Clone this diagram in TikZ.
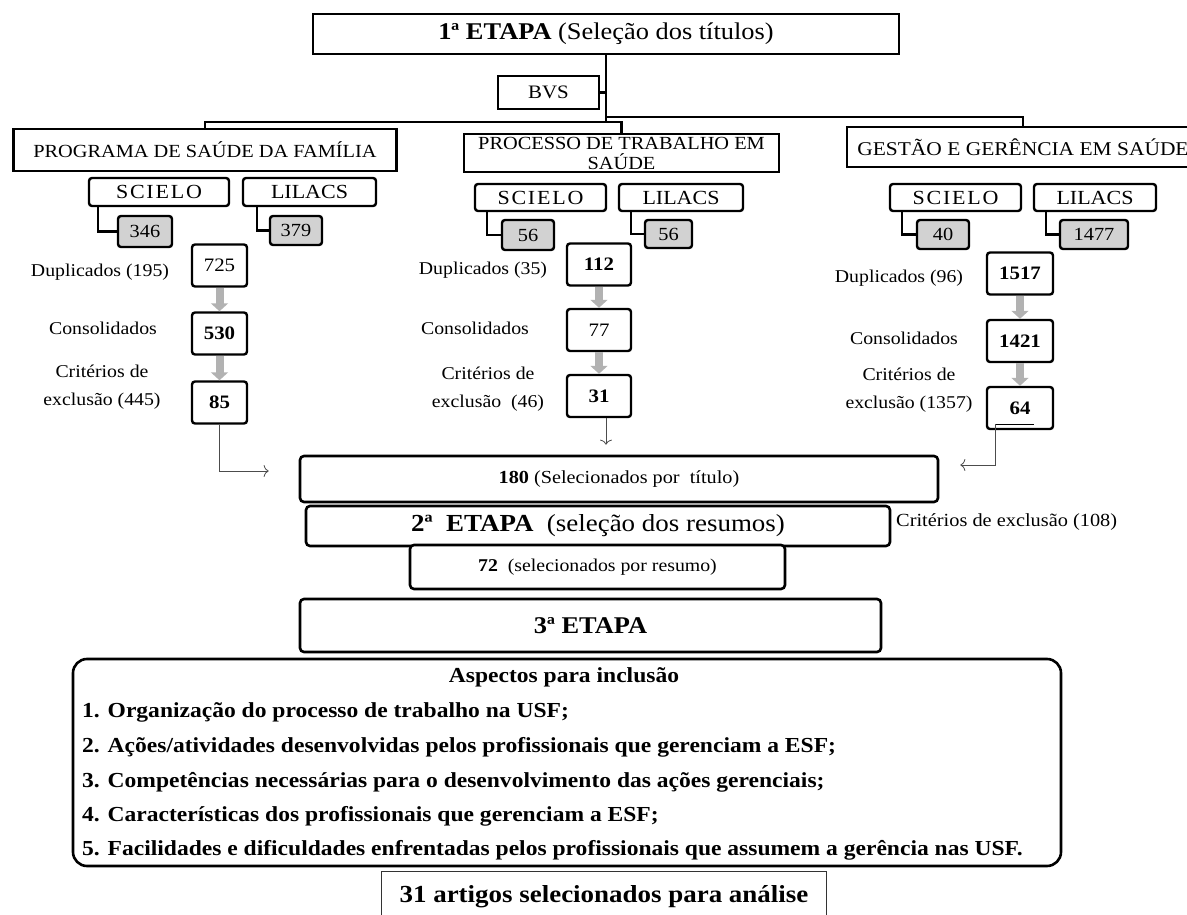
\documentclass[tikz,border=0pt]{standalone}
\usepackage{fontspec}
\setmainfont{Liberation Serif}[FakeStretch=1.1]
\usetikzlibrary{arrows.meta,positioning}

\begin{document}
\begin{tikzpicture}[
	x=1pt, y=-1pt,
	every node/.style={font=\fontsize{18}{20}\selectfont},
	frame/.style={rectangle, draw, line width=2.6pt, align=center, inner sep=0pt},
	topic/.style={frame, font=\fontsize{18.5}{20}\selectfont},
	base/.style={frame, rounded corners=3pt, line width=2.4pt, font=\fontsize{20}{22}\selectfont},
	hits/.style={frame, rounded corners=3pt, fill=gray!35, line width=2.4pt, font=\fontsize{18.5}{20}\selectfont},
	count/.style={frame, rounded corners=3pt, line width=2.4pt, minimum height=42pt, font=\bfseries\fontsize{19}{20}\selectfont},
	stage/.style={frame, rounded corners=4pt, fill=white},
	lbl/.style={align=center, inner sep=0pt, font=\fontsize{18}{28}\selectfont},
	item/.style={inner sep=0pt, font=\bfseries\fontsize{21.4}{24}\selectfont},
	link/.style={line width=2.6pt},
	flow/.style={line width=8pt, draw=gray!60, -{Triangle[length=8pt,width=17pt]}},
	line/.style={draw=black!70, line width=0.8pt, -{To[length=5pt,width=12pt]}}
]
\useasboundingbox (0,0) rectangle (1187,915);

\node[frame, minimum width=586pt, minimum height=40pt, font=\fontsize{24}{26}\selectfont] (title) at (606,34) {\textbf{1ª ETAPA} (Seleção dos títulos)};
\node[frame, minimum width=101pt, minimum height=33pt, font=\fontsize{19}{20}\selectfont] (bvs) at (548.5,92.5) {BVS};

\node[topic, minimum width=383pt, minimum height=42pt] (psf) at (205,150) {PROGRAMA DE SAÚDE DA FAMÍLIA};
\node[topic, minimum width=315pt, minimum height=38pt] (proc) at (621.5,153) {PROCESSO DE TRABALHO EM\\SAÚDE};
\node[topic, minimum width=352pt, minimum height=40pt, font=\fontsize{19.5}{22}\selectfont] (gest) at (1023,147) {GESTÃO E GERÊNCIA EM SAÚDE};

% bases
\node[base, minimum width=140pt, minimum height=28pt] (scA) at (159,192) {\addfontfeature{LetterSpace=9}SCIELO};
\node[base, minimum width=133pt, minimum height=28pt] (liA) at (309.5,192) {LILACS};
\node[base, minimum width=131pt, minimum height=27pt] (scB) at (540.5,197.5) {\addfontfeature{LetterSpace=9}SCIELO};
\node[base, minimum width=124pt, minimum height=27pt] (liB) at (681,197.5) {LILACS};
\node[base, minimum width=131pt, minimum height=27pt] (scC) at (955.5,197.5) {\addfontfeature{LetterSpace=9}SCIELO};
\node[base, minimum width=122pt, minimum height=27pt] (liC) at (1095,197.5) {LILACS};

\node[hits, minimum width=54pt, minimum height=31pt] (hA1) at (145,231.5) {346};
\node[hits, minimum width=52pt, minimum height=29pt] (hA2) at (296,230.5) {379};
\node[hits, minimum width=52pt, minimum height=30pt] (hB1) at (528,235) {56};
\node[hits, minimum width=47pt, minimum height=28pt] (hB2) at (668.5,234) {56};
\node[hits, minimum width=52pt, minimum height=29pt] (hC1) at (943,234.5) {40};
\node[hits, minimum width=68pt, minimum height=29pt] (hC2) at (1094,234.5) {1477};

% counts
\node[count, minimum width=55pt, font=\fontsize{19}{20}\selectfont] (cA1) at (219.5,265.5) {725};
\node[count, minimum width=55pt] (cA2) at (219.5,333.5) {530};
\node[count, minimum width=55pt] (cA3) at (219.5,402.5) {85};
\node[count, minimum width=64pt] (cB1) at (599,264.5) {112};
\node[count, minimum width=64pt, font=\fontsize{19}{20}\selectfont] (cB2) at (599,330) {77};
\node[count, minimum width=64pt] (cB3) at (599,396) {31};
\node[count, minimum width=66pt] (cC1) at (1020,273.5) {1517};
\node[count, minimum width=66pt] (cC2) at (1020,341) {1421};
\node[count, minimum width=66pt] (cC3) at (1020,408) {64};

\node[lbl] (dupA) at (100,272) {Duplicados (195)};
\node[lbl] (conA) at (103,328) {Consolidados};
\node[lbl] (excA) at (102,387) {Critérios de\\exclusão (445)};
\node[lbl] (dupB) at (483,270) {Duplicados (35)};
\node[lbl] (conB) at (475,328) {Consolidados};
\node[lbl] (excB) at (488,389) {Critérios de\\exclusão\ \ (46)};
\node[lbl] (dupC) at (899,278) {Duplicados (96)};
\node[lbl] (conC) at (904,338) {Consolidados};
\node[lbl] (excC) at (909,390) {Critérios de\\exclusão (1357)};

% second and third stage
\node[stage, minimum width=638pt, minimum height=46pt, font=\fontsize{18.4}{20}\selectfont] (sel180) at (619,479) {\textbf{180} (Selecionados por\ \ título)};
\node[stage, minimum width=584pt, minimum height=40pt, font=\fontsize{24.5}{26}\selectfont] (etapa2) at (598,526) {\textbf{2ª\ \ ETAPA}\ \ (seleção\ dos resumos)};
\node[lbl, anchor=west, font=\fontsize{18.5}{20}\selectfont] (crit108) at (896,522) {Critérios de exclusão (108)};
\node[stage, minimum width=375pt, minimum height=44pt, font=\fontsize{18}{20}\selectfont] (sel72) at (597.5,567) {\textbf{72}\ \ (selecionados por resumo)};
\node[stage, minimum width=581pt, minimum height=53pt, font=\bfseries\fontsize{24}{26}\selectfont] (etapa3) at (590.5,625.5) {3ª ETAPA};
\node[stage, rounded corners=14pt, minimum width=988pt, minimum height=207pt] (aspects) at (567,762.5) {};
\node[item] (head) at (564,677) {Aspectos para inclusão};
\node[item, anchor=west] (it1) at (82,712) {1. Organização do processo de trabalho na USF;};
\node[item, anchor=west] (it2) at (82,747) {2. Ações/atividades desenvolvidas pelos profissionais que gerenciam a ESF;};
\node[item, anchor=west] (it3) at (82,782) {3. Competências necessárias para o desenvolvimento das ações gerenciais;};
\node[item, anchor=west] (it4) at (82,816) {4. Características dos profissionais que gerenciam a ESF;};
\node[item, anchor=west] (it5) at (82,850) {5. Facilidades e dificuldades enfrentadas pelos profissionais que assumem a gerência nas USF.};
\node[draw=black!80, line width=1pt, minimum width=445pt, minimum height=52pt, font=\bfseries\fontsize{24.5}{26}\selectfont] (final) at (604,897) {31 artigos selecionados para análise};

% tree lines
\coordinate (hubL) at (606,122);
\coordinate (hubR) at (606,117);
\draw[link] (title.south) -- (hubL) -| (psf.north);
\draw[link] (hubR) -| (gest.north);
\draw[link] (hubL) -| (proc.north);
\draw[link] (bvs.east) -- (bvs.east -| hubL);

\draw[link] ([xshift=10pt]scA.south west) |- (hA1.west);
\draw[link] ([xshift=15pt]liA.south west) |- (hA2.west);
\draw[link] ([xshift=13pt]scB.south west) |- (hB1.west);
\draw[link] ([xshift=13pt]liB.south west) |- (hB2.west);
\draw[link] ([xshift=13pt]scC.south west) |- (hC1.west);
\draw[link] ([xshift=13pt]liC.south west) |- (hC2.west);

\draw[flow] (cA1) -- (cA2);
\draw[flow] (cA2) -- (cA3);
\draw[flow] (cB1) -- (cB2);
\draw[flow] (cB2) -- (cB3);
\draw[flow] (cC1) -- (cC2);
\draw[flow] (cC2) -- (cC3);

\coordinate (mark64) at ([xshift=-25pt,yshift=-16pt]cC3.center);
\draw[line width=0.8pt] (mark64) -- ++(39,0);
\draw[line] (cA3.south) |- ([xshift=-30pt,yshift=8pt]sel180.west);
\draw[line] ([xshift=7pt]cB3.south) -- ([xshift=7pt,yshift=10pt]sel180.north -| cB3.south);
\draw[line] (mark64) |- ([xshift=21pt,yshift=14pt]sel180.east);
\end{tikzpicture}
\end{document}
